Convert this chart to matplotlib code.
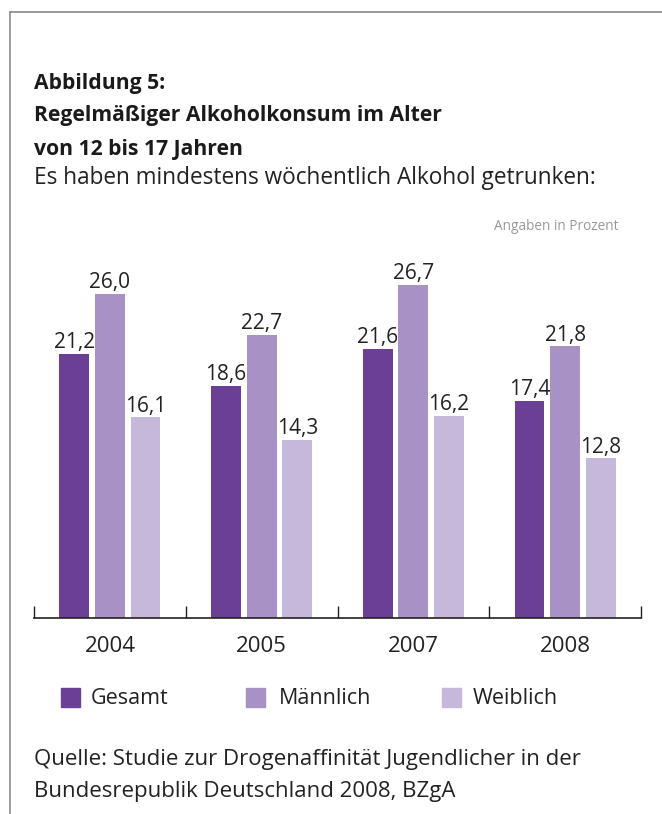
import matplotlib
matplotlib.use("Agg")
import matplotlib.pyplot as plt
import numpy as np
from matplotlib.lines import Line2D
from matplotlib.patches import Rectangle

years = ["2004", "2005", "2007", "2008"]
series = ["Gesamt", "Männlich", "Weiblich"]
gesamt = [21.2, 18.6, 21.6, 17.4]
maennlich = [26.0, 22.7, 26.7, 21.8]
weiblich = [16.1, 14.3, 16.2, 12.8]
colors = ["#6c3f97", "#a891c5", "#c6b8da"]

plt.rcParams["font.family"] = ["Open Sans", "DejaVu Sans"]
W, H = 662, 814
fig = plt.figure(figsize=(W / 100, H / 100), dpi=100)

def fx(px):
    return px / W

def fy(py):
    return 1 - py / H

# frame lines (left and top)
fig.add_artist(Line2D([fx(10), fx(10)], [fy(12), 0], color="#8a8a8a", lw=1.2))
fig.add_artist(Line2D([fx(10), 1], [fy(12), fy(12)], color="#8a8a8a", lw=1.2))

# titles
dark = "#222222"
for py, line in zip([83, 116, 149], ["Abbildung 5:", "Regelmäßiger Alkoholkonsum im Alter", "von 12 bis 17 Jahren"]):
    fig.text(fx(34), fy(py), line, fontsize=15.2, fontweight="bold", color="#1a1a1a", va="center")
fig.text(fx(34), fy(178), "Es haben mindestens wöchentlich Alkohol getrunken:", fontsize=16.3, color=dark, va="center")
fig.text(fx(618), fy(227), "Angaben in Prozent", fontsize=9.8, color="#999999", va="center", ha="right")

# bars
ax = fig.add_axes([fx(34), fy(618), fx(641) - fx(34), (618 - 244) / H])
x = np.arange(len(years))
bw = 0.197
off = 0.235
for i, (vals, c) in enumerate(zip([gesamt, maennlich, weiblich], colors)):
    xs = x + (i - 1) * off
    ax.bar(xs, vals, width=bw, color=c, zorder=2)
    for xi, v in zip(xs, vals):
        ax.annotate(f"{v:.1f}".replace(".", ","), (xi, v), xytext=(0, 0.5), textcoords="offset points",
                    ha="center", va="bottom", fontsize=15, color=dark)

ax.set_xlim(-0.5, 3.5)
ax.set_ylim(0, 30)
for s in ["top", "right", "left"]:
    ax.spines[s].set_visible(False)
ax.spines["bottom"].set_color(dark)
ax.spines["bottom"].set_linewidth(1.2)
ax.set_yticks([])
ax.set_xticks([-0.5, 0.5, 1.5, 2.5, 3.5], minor=False)
ax.set_xticklabels([])
ax.tick_params(axis="x", direction="in", length=9, width=1.0, color=dark)
ax.set_xticks(x, minor=True)
ax.set_xticklabels(years, minor=True, fontsize=16, color=dark)
ax.tick_params(axis="x", which="minor", length=0, pad=13)
ax.patch.set_alpha(0)

# legend
leg_x = [61, 246, 442]
txt_x = [91, 279, 473]
for lx, tx, name, c in zip(leg_x, txt_x, series, colors):
    fig.add_artist(Rectangle((fx(lx), fy(707)), fx(19), 19 / H, color=c, transform=fig.transFigure))
    fig.text(fx(tx), fy(699), name, fontsize=15.5, color=dark, va="center")

# source
fig.text(fx(34), fy(760), "Quelle: Studie zur Drogenaffinität Jugendlicher in der", fontsize=16, color=dark, va="center")
fig.text(fx(34), fy(791), "Bundesrepublik Deutschland 2008, BZgA", fontsize=16, color=dark, va="center")

fig.savefig("out.png", dpi=100)
